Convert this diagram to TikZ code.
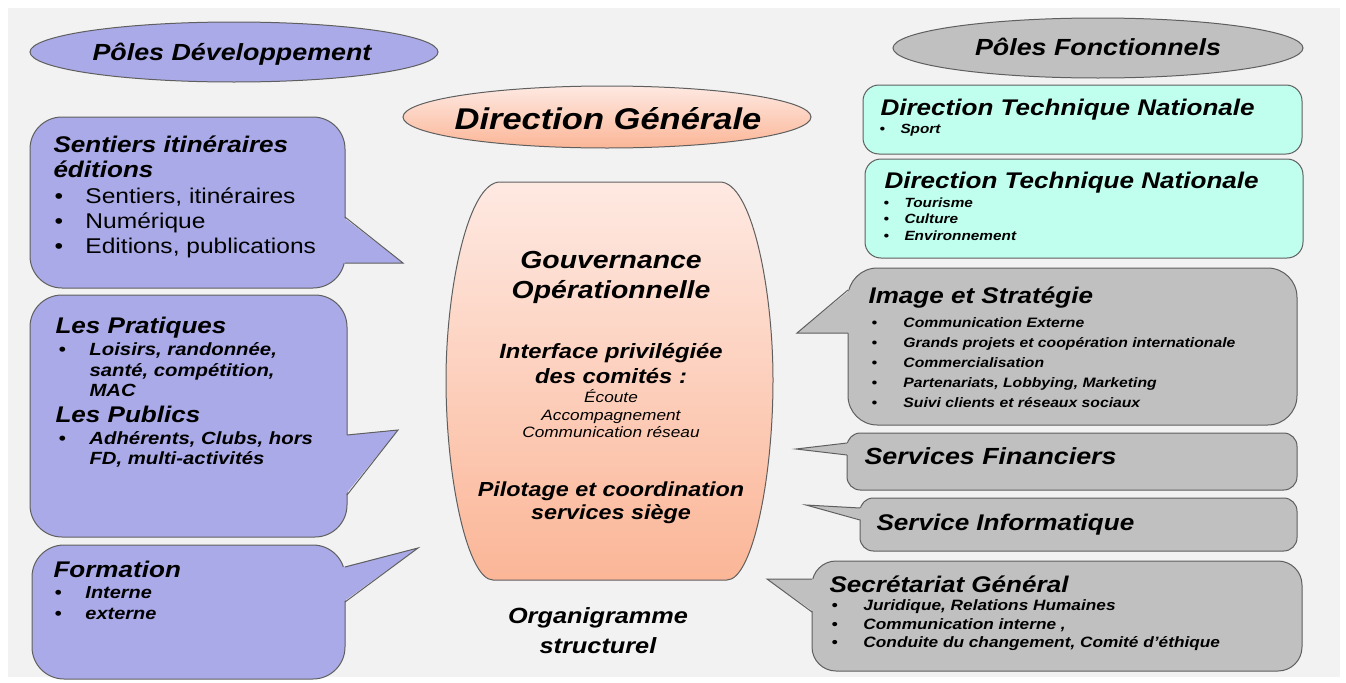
\documentclass[tikz,border=0pt]{standalone}
\usepackage{fontspec}
\setmainfont{Liberation Sans}[FakeStretch=1.15]

\definecolor{fond}{RGB}{242,242,242}
\definecolor{rim}{RGB}{95,95,95}
\definecolor{devblue}{RGB}{170,170,232}
\definecolor{foncgrey}{RGB}{192,192,192}
\definecolor{dtncyan}{RGB}{192,255,238}
\definecolor{gouvtop}{RGB}{254,233,226}
\definecolor{gouvbot}{RGB}{251,182,151}

\tikzset{every picture/.style={line width=0.75pt},
  devbox/.style={draw=rim, fill=devblue, rounded corners=24},
  foncbox/.style={draw=rim, fill=foncgrey, rounded corners=#1},
  dtnbox/.style={draw=rim, fill=dtncyan, rounded corners=12},
  salmon/.style={draw=rim, top color=gouvtop, bottom color=gouvbot},
  bi/.style={font=\bfseries\itshape\fontsize{#1pt}{#1pt}\selectfont},
  rg/.style={font=\fontsize{#1pt}{#1pt}\selectfont},
  ital/.style={font=\itshape\fontsize{#1pt}{#1pt}\selectfont},
  lbl/.style={anchor=base west, inner sep=0.75pt},
  mid/.style={anchor=base, inner sep=0.75pt}}

\begin{document}
\begin{tikzpicture}[x=0.75pt,y=0.75pt,yscale=-1,xscale=1]
\useasboundingbox (0,0) rectangle (1346,682);
\fill[white] (0,0) rectangle (1346,682);
\fill[fond] (8,8) rectangle (1340,677);

%Shape: Ellipse [poles developpement]
\draw[draw=rim, fill=devblue] (234,52) ellipse [x radius=204, y radius=30];
%Shape: Ellipse [poles fonctionnels]
\draw[draw=rim, fill=foncgrey] (1098,48) ellipse [x radius=205, y radius=30];
%Shape: Ellipse [direction generale]
\draw[salmon] (607,117) ellipse [x radius=204, y radius=31];

%Shape: Barrel [gouvernance]
\draw[salmon] (500,182) -- (720,182) .. controls (752,182) and (773,290) .. (773,380) .. controls (773,480) and (752,580) .. (727,580) -- (493,580) .. controls (468,580) and (446,480) .. (446,380) .. controls (446,290) and (468,182) .. (500,182) -- cycle;

%Callout: sentiers
\draw[devbox] (30,117) rectangle (345,288);
\fill[devblue] (343,217) -- (403,263) -- (343,263) -- cycle;
\draw[rim] (345,217) -- (403,263) -- (345,263);
%Callout: pratiques
\draw[devbox] (30,295) rectangle (347,537);
\fill[devblue] (345,435) -- (398,430) -- (345,495) -- cycle;
\draw[rim] (347,435) -- (398,430) -- (347,495);
%Callout: formation
\draw[devbox] (32,545) rectangle (345,679);
\fill[devblue] (343,567) -- (418,548) -- (343,602) -- cycle;
\draw[rim] (345,567) -- (418,548) -- (345,602);

%Rounded boxes: DTN
\draw[dtnbox] (863,85) rectangle (1302,154);
\draw[dtnbox] (865,159) rectangle (1303,258);

%Callout: image et strategie
\draw[foncbox=22] (848,268) rectangle (1297,425);
\fill[foncgrey] (850,290) -- (797,333) -- (850,333) -- cycle;
\draw[rim] (848,290) -- (797,333) -- (848,333);
%Callout: services financiers
\draw[foncbox=10] (847,433) rectangle (1297,490);
\fill[foncgrey] (849,443) -- (796,449) -- (849,455) -- cycle;
\draw[rim] (847,443) -- (796,449) -- (847,455);
%Callout: service informatique
\draw[foncbox=10] (860,498) rectangle (1297,551);
\fill[foncgrey] (862,508) -- (806,505) -- (862,520) -- cycle;
\draw[rim] (860,508) -- (806,505) -- (860,520);
%Callout: secretariat general
\draw[foncbox=18] (812,561) rectangle (1302,671);
\fill[foncgrey] (814,579) -- (767,579) -- (814,612) -- cycle;
\draw[rim] (812,579) -- (767,579) -- (812,612);

% Text Node
\draw (232,60) node [mid, bi=17.5] (devT) {Pôles Développement};
% Text Node
\draw (1098,55) node [mid, bi=17.5] (foncT) {Pôles Fonctionnels};
% Text Node
\draw (608,129) node [mid, bi=22.5] (dgT) {Direction Générale};

% Text Node
\draw (52,152) node [lbl, bi=17] (sentT1) {Sentiers itinéraires};
\draw (52,177) node [lbl, bi=17] (sentT2) {éditions};
\draw (53,203) node [lbl, rg=16] (sentI1) {\makebox[23.25pt][l]{\textbullet}Sentiers, itinéraires};
\draw (53,228) node [lbl, rg=16] (sentI2) {\makebox[23.25pt][l]{\textbullet}Numérique};
\draw (53,253) node [lbl, rg=16] (sentI3) {\makebox[23.25pt][l]{\textbullet}Editions, publications};

% Text Node
\draw (54,333) node [lbl, bi=17] (pratT) {Les Pratiques};
\draw (57,355) node [lbl, bi=13.25] (pratI1) {\makebox[23.25pt][l]{\textbullet}Loisirs, randonnée,};
\draw (88,376) node [lbl, bi=13.25] (pratI2) {santé, compétition,};
\draw (88,396) node [lbl, bi=13.25] (pratI3) {MAC};
\draw (54,422) node [lbl, bi=17] (pubT) {Les Publics};
\draw (57,444) node [lbl, bi=13.25] (pubI1) {\makebox[23.25pt][l]{\textbullet}Adhérents, Clubs, hors};
\draw (88,464) node [lbl, bi=13.25] (pubI2) {FD, multi-activités};

% Text Node
\draw (52,577) node [lbl, bi=17] (formT) {Formation};
\draw (53,598) node [lbl, bi=13] (formI1) {\makebox[23.25pt][l]{\textbullet}Interne};
\draw (53,619) node [lbl, bi=13] (formI2) {\makebox[23.25pt][l]{\textbullet}externe};

% Text Node
\draw (611,268) node [mid, bi=18.5] (gouvT1) {Gouvernance};
\draw (611,298) node [mid, bi=18.5] (gouvT2) {Opérationnelle};
\draw (611,358) node [mid, bi=15.5] (intT1) {Interface privilégiée};
\draw (611,383) node [mid, bi=15.5] (intT2) {des comités :};
\draw (611,402) node [mid, ital=11.25] (intI1) {Écoute};
\draw (611,420) node [mid, ital=11.25] (intI2) {Accompagnement};
\draw (611,437) node [mid, ital=11.25] (intI3) {Communication réseau};
\draw (611,496) node [mid, bi=15.25] (pilT1) {Pilotage et coordination};
\draw (611,519) node [mid, bi=15.25] (pilT2) {services siège};
\draw (598,623) node [mid, bi=16.5] (orgT1) {Organigramme};
\draw (598,653) node [mid, bi=16.5] (orgT2) {structurel};

% Text Node
\draw (879,115) node [lbl, bi=17] (dtn1T) {Direction Technique Nationale};
\draw (878,133) node [lbl, bi=10] (dtn1I) {\makebox[15.75pt][l]{\textbullet}Sport};
\draw (883,188) node [lbl, bi=17] (dtn2T) {Direction Technique Nationale};
\draw (882,207) node [lbl, bi=10] (dtn2I1) {\makebox[15.75pt][l]{\textbullet}Tourisme};
\draw (882,223) node [lbl, bi=10] (dtn2I2) {\makebox[15.75pt][l]{\textbullet}Culture};
\draw (882,240) node [lbl, bi=10] (dtn2I3) {\makebox[15.75pt][l]{\textbullet}Environnement};

% Text Node
\draw (867,303) node [lbl, bi=17] (imgT) {Image et Stratégie};
\draw (870,327) node [lbl, bi=10.25] (imgI1) {\makebox[24pt][l]{\textbullet}Communication Externe};
\draw (870,347) node [lbl, bi=10.25] (imgI2) {\makebox[24pt][l]{\textbullet}Grands projets et coopération internationale};
\draw (870,367) node [lbl, bi=10.25] (imgI3) {\makebox[24pt][l]{\textbullet}Commercialisation};
\draw (870,387) node [lbl, bi=10.25] (imgI4) {\makebox[24pt][l]{\textbullet}Partenariats, Lobbying, Marketing};
\draw (870,407) node [lbl, bi=10.25] (imgI5) {\makebox[24pt][l]{\textbullet}Suivi clients et réseaux sociaux};

% Text Node
\draw (863,464) node [lbl, bi=17.5] (finT) {Services Financiers};
\draw (875,530) node [lbl, bi=17] (infT) {Service Informatique};
\draw (828,592) node [lbl, bi=17] (sgT) {Secrétariat Général};
\draw (830,610) node [lbl, bi=11.25] (sgI1) {\makebox[24pt][l]{\textbullet}Juridique, Relations Humaines};
\draw (830,629) node [lbl, bi=11.25] (sgI2) {\makebox[24pt][l]{\textbullet}Communication interne ,};
\draw (830,647) node [lbl, bi=11.25] (sgI3) {\makebox[24pt][l]{\textbullet}Conduite du changement, Comité d’éthique};

\end{tikzpicture}
\end{document}
